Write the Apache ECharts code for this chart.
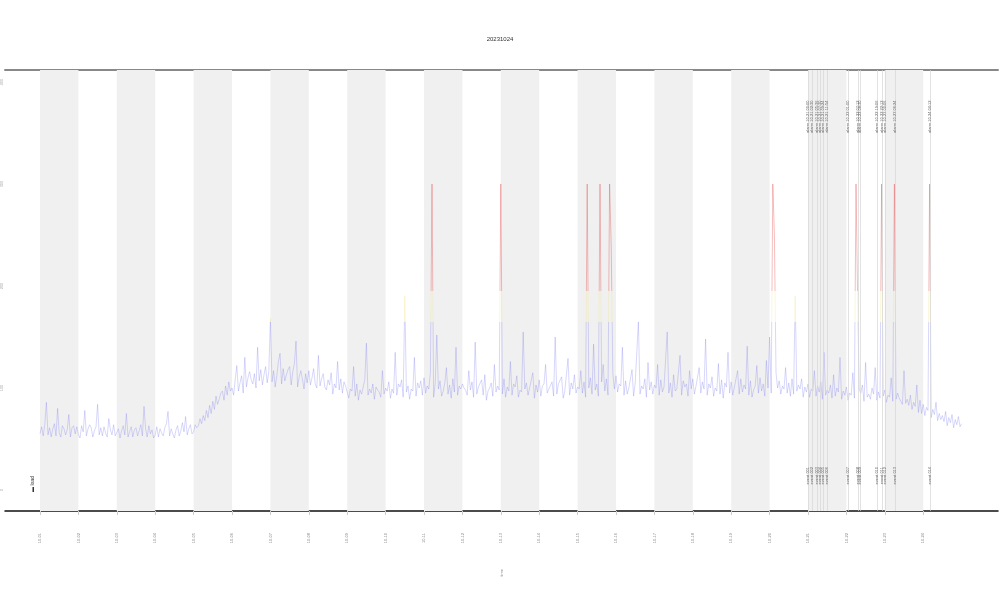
<!DOCTYPE html>
<html>
<head>
<meta charset="utf-8">
<script src="https://cdn.jsdelivr.net/npm/echarts@6/dist/echarts.min.js"></script>
<style>html,body{margin:0;padding:0;background:#fff}#c{width:1000px;height:600px}</style>
</head>
<body>
<div id="c"></div>
<script>
const titleText = '20231024';
const dayLabels = ['10-01','10-02','10-03','10-04','10-05','10-06','10-07','10-08','10-09','10-10','10-11','10-12','10-13','10-14','10-15','10-16','10-17','10-18','10-19','10-20','10-21','10-22','10-23','10-24'];
const dayTicks = [0,24,48,72,96,120,144,168,192,216,240,264,288,312,336,360,384,408,432,456,480,504,528,552];
const yTicks = [0,100,200,300,400];
const stepHours = 1;
const values = [
 55,62,53,64,86,54,61,52,60,65,53,80,56,52,63,60,54,59,74,52,61,63,55,62,
 54,51,63,57,78,53,60,64,61,52,58,62,84,54,61,53,62,56,52,70,59,54,64,53,
 53,60,51,58,63,54,75,52,57,62,52,59,61,53,58,64,53,82,60,52,63,55,59,51,
 54,62,52,60,56,53,61,65,77,53,60,55,51,59,63,53,58,66,57,72,54,60,64,55,
 57,64,61,63,70,65,73,68,78,71,83,75,87,79,92,84,89,95,97,88,102,93,106,97,
 100,93,108,122,97,105,112,95,130,101,110,116,108,104,114,100,140,107,118,103,113,121,105,116,
 168,106,117,101,112,126,134,104,119,107,113,118,121,103,116,124,146,101,111,117,109,99,114,105,
 117,103,110,119,104,100,132,102,109,114,101,98,108,103,115,94,104,100,126,98,109,95,106,102,
 102,90,99,97,121,92,104,88,98,94,101,108,144,93,99,95,104,89,101,98,96,91,117,94,
 100,97,106,90,99,95,135,93,104,101,108,91,190,96,102,89,99,97,130,92,105,100,107,93,
 110,95,102,99,115,300,91,104,152,99,107,92,97,105,120,94,103,90,109,96,140,93,102,99,
 104,100,98,93,117,98,106,91,145,94,101,102,108,93,113,88,97,100,105,92,123,96,102,98,
 300,94,109,91,101,97,126,93,104,101,112,91,98,96,155,99,105,93,100,99,115,90,103,96,
 108,92,102,104,123,95,99,98,106,92,150,94,104,103,111,90,97,96,129,93,105,99,113,95,
 101,99,117,95,106,91,300,100,110,94,143,98,104,92,300,106,123,97,109,93,300,240,115,99,
 112,96,104,102,140,93,107,94,100,100,118,92,105,105,165,94,102,99,109,91,125,98,106,94,
 103,100,123,93,108,96,101,102,155,95,105,91,113,97,99,98,132,93,107,101,104,92,117,99,
 109,94,102,102,120,95,106,99,148,93,104,100,111,92,100,97,124,94,108,90,105,101,135,95,
 106,93,101,100,117,94,109,96,103,99,141,93,107,91,98,102,122,95,110,97,104,92,127,100,
 150,95,300,250,115,100,107,94,102,99,120,95,105,92,109,94,190,97,103,99,109,91,101,96,
 104,91,99,97,117,92,102,96,106,89,135,93,98,95,103,90,113,92,100,96,130,89,97,93,
 101,88,95,93,115,90,300,190,99,95,103,87,125,91,94,89,100,94,120,88,96,90,300,92,
 98,86,93,91,110,87,300,89,95,90,91,84,117,85,89,83,93,79,86,82,103,76,88,75,
 84,73,81,78,300,71,79,74,86,68,75,69,73,67,77,63,71,66,74,61,69,64,72,62,
 65
];
const eventHours = [480,482.5,485.6,487.5,489.4,491.9,505,511.2,512.5,523.1,526.2,528.1,534.4,556.2];
const eventTopLabels = ['alarm 10-21 00:00','alarm 10-21 02:30','alarm 10-21 05:36','alarm 10-21 07:30','alarm 10-21 09:24','alarm 10-21 11:54','alarm 10-22 01:00','alarm 10-22 07:12','alarm 10-22 08:30','alarm 10-22 19:06','alarm 10-22 22:12','alarm 10-23 00:06','alarm 10-23 06:24','alarm 10-24 04:12'];
const eventBottomLabels = ['event 001','event 002','event 003','event 004','event 005','event 006','event 007','event 008','event 009','event 010','event 011','event 012','event 013','event 014'];

const seriesData = values.map((v, i) => [i * stepHours, v]);
const bands = [];
for (let k = 0; k < dayTicks.length; k += 2) bands.push([{ xAxis: dayTicks[k] }, { xAxis: dayTicks[k] + 24 }]);
const eventPoints = [];
eventHours.forEach((h, i) => {
  eventPoints.push({ coord: [h, 366], value: eventTopLabels[i] });
  eventPoints.push({ coord: [h, 14], value: eventBottomLabels[i] });
});

const chart = echarts.init(document.getElementById('c'));
chart.setOption({
  animation: false,
  backgroundColor: '#fff',
  title: { text: titleText, left: 'center', top: 31, textStyle: { fontSize: 6, color: '#333', fontWeight: 'normal' } },
  grid: { left: 5, right: 2, top: 70, bottom: 89, outerBoundsMode: 'none', containLabel: false },
  xAxis: [{
    type: 'value', min: -21.875, max: 598.75, position: 'bottom',
    axisLine: { show: true, onZero: false, lineStyle: { color: '#111', width: 1.5 } },
    axisTick: { show: true, customValues: dayTicks, length: 4, lineStyle: { color: '#ccc' } },
    axisLabel: { customValues: dayTicks, rotate: 90, fontSize: 4, color: '#888', margin: 22,
      formatter: v => dayLabels[Math.round(v / 24)] || '' },
    splitLine: { show: false },
    name: 'time', nameLocation: 'middle', nameGap: 58, nameRotate: 90,
    nameTextStyle: { fontSize: 4, color: '#888' }
  }, {
    type: 'value', min: -21.875, max: 598.75, position: 'top',
    axisLine: { show: true, onZero: false, lineStyle: { color: '#888', width: 2 } },
    axisTick: { show: false }, axisLabel: { show: false }, splitLine: { show: false }
  }],
  yAxis: {
    type: 'value', min: -20.6, max: 411.8,
    axisLine: { show: false }, axisTick: { show: false }, splitLine: { show: false },
    axisLabel: { customValues: yTicks, rotate: 90, fontSize: 4, color: '#aaa', margin: 1 },
    name: 'value (units)', nameLocation: 'middle', nameGap: 3, nameRotate: 90,
    nameTextStyle: { fontSize: 4, color: '#aaa' }
  },
  visualMap: {
    type: 'piecewise', show: false, dimension: 1, seriesIndex: 0,
    pieces: [
      { lt: 165, color: '#7b7bf0' },
      { gte: 165, lt: 195, color: '#efe27a' },
      { gte: 195, color: '#e02424' }
    ]
  },
  graphic: [{
    type: 'text', x: 30, y: 492, rotation: Math.PI / 2,
    style: { text: '▬ load', fontSize: 5, fill: '#333' }
  }],
  series: [{
    type: 'line', data: seriesData, showSymbol: false, silent: true,
    lineStyle: { width: 0.6, opacity: 0.5 },
    markArea: { silent: true, itemStyle: { color: '#f0f0f0' }, data: bands }
  }, {
    type: 'line', data: [], silent: true,
    markLine: {
      silent: true, symbol: ['none', 'none'],
      lineStyle: { color: '#d6d6d6', width: 0.7, type: 'solid' },
      label: { show: false },
      data: eventHours.map(h => ({ xAxis: h }))
    },
    markPoint: {
      silent: true, symbol: 'circle', symbolSize: 0,
      label: { show: true, position: 'inside', rotate: 90, fontSize: 4, color: '#666', formatter: p => p.value },
      data: eventPoints
    }
  }]
});
</script>
</body>
</html>
